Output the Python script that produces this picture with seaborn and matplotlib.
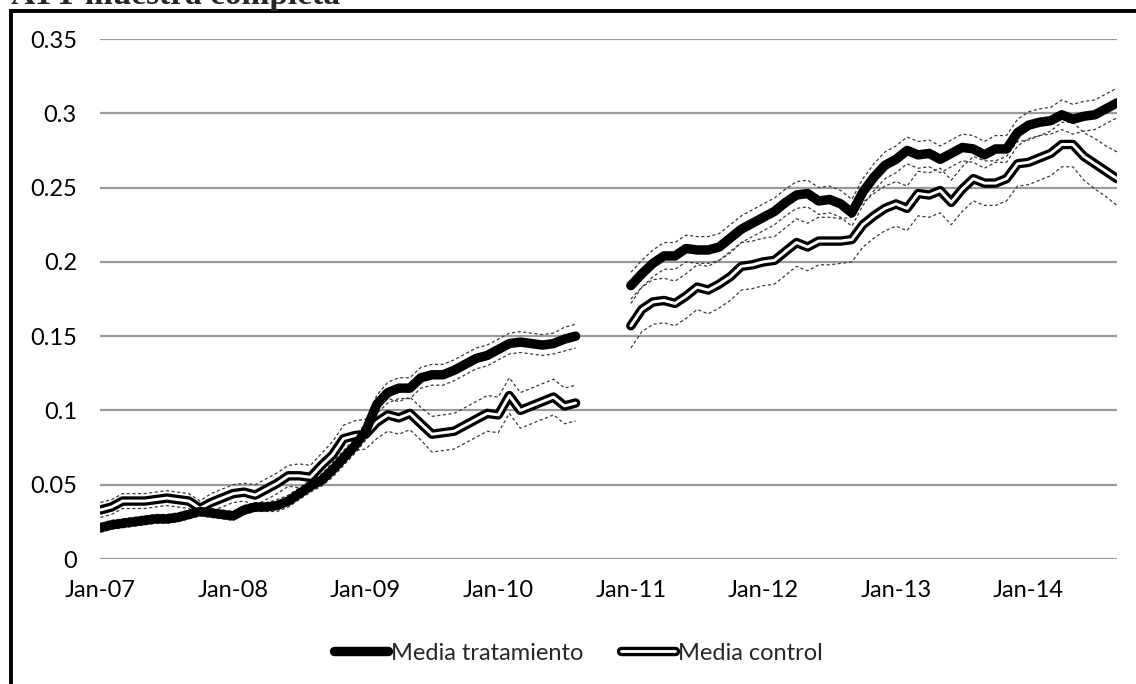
import matplotlib
matplotlib.use("Agg")
import numpy as np
import pandas as pd
import matplotlib.pyplot as plt
import seaborn as sns
from matplotlib import patheffects as pe
from matplotlib.lines import Line2D

# monthly axis, Jan-07 .. Sep-14 (93 months); Sep-10..Dec-10 missing
months = pd.date_range("2007-01-01", "2014-09-01", freq="MS")
tick_labels = ["Jan-07", "Jan-08", "Jan-09", "Jan-10", "Jan-11", "Jan-12", "Jan-13", "Jan-14"]
y_ticks = [0, 0.05, 0.1, 0.15, 0.2, 0.25, 0.3, 0.35]
y_labels = ["0", "0.05", "0.1", "0.15", "0.2", "0.25", "0.3", "0.35"]

gap = [None, None, None, None]

treat_mean = [
    0.021, 0.023, 0.024, 0.025, 0.026, 0.027, 0.027, 0.028, 0.030, 0.032,
    0.031, 0.030, 0.029, 0.033, 0.035, 0.035, 0.036, 0.039, 0.044, 0.049,
    0.053, 0.060, 0.068, 0.076, 0.086, 0.104, 0.112, 0.115, 0.115, 0.122,
    0.124, 0.124, 0.127, 0.131, 0.135, 0.137, 0.141, 0.145, 0.146, 0.145,
    0.144, 0.145, 0.148, 0.150,
] + gap + [
    0.184, 0.192, 0.199, 0.204, 0.204, 0.209, 0.208, 0.208, 0.210, 0.216,
    0.222, 0.226, 0.230, 0.234, 0.240, 0.245, 0.246, 0.241, 0.242, 0.239,
    0.233, 0.247, 0.257, 0.265, 0.269, 0.275, 0.272, 0.273, 0.269, 0.273,
    0.277, 0.276, 0.272, 0.276, 0.276, 0.287, 0.292, 0.294, 0.295, 0.299,
    0.296, 0.298, 0.299, 0.303, 0.307,
]

control_mean = [
    0.033, 0.035, 0.039, 0.039, 0.039, 0.040, 0.041, 0.040, 0.039, 0.034,
    0.038, 0.041, 0.044, 0.045, 0.043, 0.047, 0.051, 0.056, 0.056, 0.055,
    0.063, 0.070, 0.081, 0.083, 0.084, 0.092, 0.097, 0.095, 0.098, 0.091,
    0.084, 0.085, 0.086, 0.090, 0.094, 0.098, 0.097, 0.110, 0.100, 0.103,
    0.106, 0.109, 0.103, 0.105,
] + gap + [
    0.157, 0.168, 0.173, 0.174, 0.172, 0.177, 0.183, 0.181, 0.185, 0.190,
    0.197, 0.198, 0.200, 0.201, 0.207, 0.213, 0.210, 0.214, 0.214, 0.214,
    0.215, 0.225, 0.231, 0.236, 0.239, 0.236, 0.246, 0.245, 0.248, 0.240,
    0.249, 0.256, 0.253, 0.253, 0.256, 0.266, 0.267, 0.270, 0.273, 0.279,
    0.279, 0.271, 0.266, 0.261, 0.256,
]

# half width of the confidence bands (dashed lines)
treat_ci = [
    0.003, 0.003, 0.003, 0.003, 0.003, 0.003, 0.003, 0.003, 0.003, 0.003,
    0.003, 0.003, 0.003, 0.003, 0.003, 0.003, 0.004, 0.004, 0.004, 0.004,
    0.004, 0.005, 0.005, 0.005, 0.006, 0.006, 0.007, 0.007, 0.007, 0.007,
    0.007, 0.007, 0.007, 0.007, 0.007, 0.007, 0.007, 0.007, 0.007, 0.007,
    0.007, 0.007, 0.008, 0.008,
] + gap + [
    0.009, 0.009, 0.009, 0.009, 0.009, 0.009, 0.009, 0.009, 0.009, 0.009,
    0.009, 0.009, 0.009, 0.009, 0.009, 0.009, 0.009, 0.009, 0.009, 0.009,
    0.009, 0.009, 0.009, 0.009, 0.009, 0.009, 0.009, 0.009, 0.009, 0.009,
    0.009, 0.009, 0.009, 0.009, 0.009, 0.009, 0.009, 0.009, 0.009, 0.010,
    0.010, 0.010, 0.010, 0.010, 0.010,
]

control_ci = [
    0.005, 0.005, 0.005, 0.005, 0.005, 0.005, 0.005, 0.005, 0.005, 0.005,
    0.006, 0.006, 0.006, 0.006, 0.007, 0.007, 0.007, 0.007, 0.008, 0.008,
    0.008, 0.009, 0.009, 0.010, 0.010, 0.011, 0.011, 0.011, 0.011, 0.011,
    0.012, 0.012, 0.012, 0.012, 0.012, 0.012, 0.012, 0.012, 0.012, 0.012,
    0.012, 0.012, 0.012, 0.012,
] + gap + [
    0.015, 0.015, 0.015, 0.015, 0.015, 0.015, 0.015, 0.016, 0.016, 0.016,
    0.016, 0.016, 0.016, 0.016, 0.016, 0.016, 0.016, 0.016, 0.016, 0.015,
    0.015, 0.015, 0.015, 0.015, 0.015, 0.015, 0.015, 0.015, 0.015, 0.015,
    0.015, 0.015, 0.015, 0.015, 0.015, 0.015, 0.015, 0.015, 0.015, 0.015,
    0.015, 0.016, 0.017, 0.017, 0.018,
]

sns.set_theme(style="white")
plt.rcParams["font.family"] = ["Lato", "DejaVu Sans"]

df = pd.DataFrame({
    "t": np.arange(len(months)),
    "treat": pd.to_numeric(pd.Series(treat_mean), errors="coerce"),
    "control": pd.to_numeric(pd.Series(control_mean), errors="coerce"),
    "treat_ci": pd.to_numeric(pd.Series(treat_ci), errors="coerce"),
    "control_ci": pd.to_numeric(pd.Series(control_ci), errors="coerce"),
})
df["seg"] = (df["treat"].isna().cumsum() > 0).astype(int)
df["treat_hi"] = df["treat"] + df["treat_ci"]
df["treat_lo"] = df["treat"] - df["treat_ci"]
df["control_hi"] = df["control"] + df["control_ci"]
df["control_lo"] = df["control"] - df["control_ci"]
df = df.dropna()

W, H = 1136, 684
fig = plt.figure(figsize=(W / 100, H / 100), dpi=100)
ax = fig.add_axes([100.5 / W, 125 / H, (1117 - 100.5) / W, 520 / H])

# dashed confidence bands
for col in ["control_hi", "control_lo", "treat_hi", "treat_lo"]:
    sns.lineplot(data=df, x="t", y=col, units="seg", estimator=None, ax=ax,
                 color="#3a3a3a", lw=0.9, linestyle=(0, (2.5, 2)), legend=False)

# control: double line (black outline, white core)
double = [pe.Stroke(linewidth=6.8, foreground="black"), pe.Normal()]
sns.lineplot(data=df, x="t", y="control", units="seg", estimator=None, ax=ax,
             color="white", lw=2.1, solid_capstyle="round", solid_joinstyle="round",
             path_effects=double, legend=False)

# treatment: thick black line
sns.lineplot(data=df, x="t", y="treat", units="seg", estimator=None, ax=ax,
             color="black", lw=6.8, solid_capstyle="round", solid_joinstyle="round",
             legend=False)

ax.set_xlim(0, len(months) - 1)
ax.set_ylim(0, 0.35)
ax.set_xticks(range(0, len(months), 12))
ax.set_xticklabels(tick_labels)
ax.set_yticks(y_ticks)
ax.set_yticklabels(y_labels)
ax.set_xlabel("")
ax.set_ylabel("")
ax.tick_params(axis="both", length=0, labelsize=17, colors="black")
ax.tick_params(axis="y", pad=17)
ax.tick_params(axis="x", pad=15)
ax.yaxis.grid(True, color="#9a9a9a", lw=1.6)
ax.xaxis.grid(False)
ax.set_axisbelow(True)
sns.despine(ax=ax, left=True, bottom=True)

handles = [
    Line2D([], [], color="black", lw=6.8, solid_capstyle="round"),
    Line2D([], [], color="white", lw=2.1, solid_capstyle="round", path_effects=double),
]
fig.legend(handles, ["Media tratamiento", "Media control"], loc="center",
           bbox_to_anchor=(0.509, 1 - 653 / H), ncol=2, frameon=False,
           fontsize=17, handlelength=2.3, handletextpad=0.1, columnspacing=1.6)

# outer chart frame (left and top edges visible) and cut-off title
fig.add_artist(Line2D([1.0, 11 / W, 11 / W], [1 - 11 / H, 1 - 11 / H, 0.0],
                      transform=fig.transFigure, color="black", lw=2.8,
                      solid_joinstyle="miter"))
fig.text(11 / W, 1 - 4 / H, "ATT muestra completa", family=["Liberation Serif"],
         fontweight="bold", fontsize=24, va="baseline", ha="left")

fig.savefig("out.png", dpi=100)
